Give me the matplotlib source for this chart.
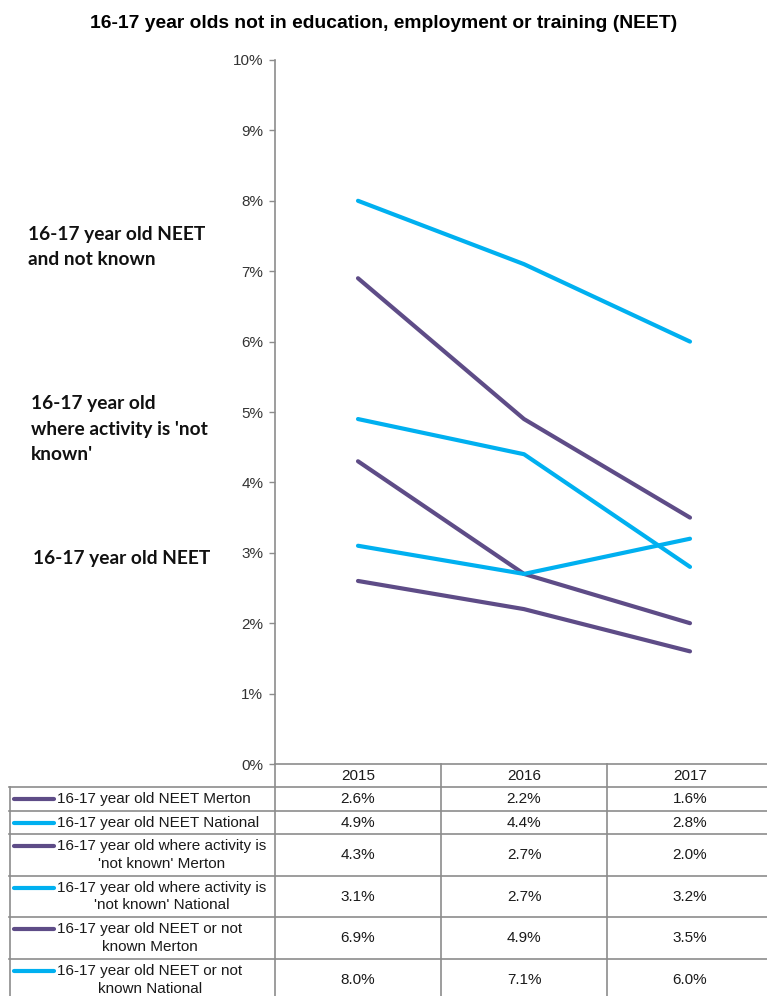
import matplotlib
matplotlib.use("Agg")
import matplotlib.pyplot as plt
import matplotlib.transforms as mtransforms
from matplotlib.ticker import FuncFormatter, MultipleLocator

# data
years = ["2015", "2016", "2017"]
series_names = [
    "16-17 year old NEET Merton",
    "16-17 year old NEET National",
    "16-17 year old where activity is\n'not known' Merton",
    "16-17 year old where activity is\n'not known' National",
    "16-17 year old NEET or not\nknown Merton",
    "16-17 year old NEET or not\nknown National",
]
neet_merton = [2.6, 2.2, 1.6]
neet_national = [4.9, 4.4, 2.8]
notknown_merton = [4.3, 2.7, 2.0]
notknown_national = [3.1, 2.7, 3.2]
either_merton = [6.9, 4.9, 3.5]
either_national = [8.0, 7.1, 6.0]
series_values = [neet_merton, neet_national, notknown_merton,
                 notknown_national, either_merton, either_national]

side_labels = ["16-17 year old NEET\nand not known",
               "16-17 year old\nwhere activity is 'not\nknown'",
               "16-17 year old NEET"]

PURPLE = "#5E4C87"
CYAN = "#00B0F0"
GRID = "#8C8C8C"
TXT = "#1a1a1a"
colors = [PURPLE, CYAN, PURPLE, CYAN, PURPLE, CYAN]

W, H = 767, 996
fig = plt.figure(figsize=(W / 100, H / 100), dpi=100, facecolor="white")

# axes placed in pixel terms
ax_left, ax_right, ax_top, ax_bottom = 275, 773, 60, 764
ax = fig.add_axes([ax_left / W, 1 - ax_bottom / H, (ax_right - ax_left) / W, (ax_bottom - ax_top) / H])

x = range(len(years))
for vals, c in zip(series_values, colors):
    ax.plot(x, vals, color=c, lw=3.0, solid_capstyle="round", solid_joinstyle="round")

ax.set_xlim(-0.5, 2.5)
ax.set_ylim(0, 10)
ax.yaxis.set_major_locator(MultipleLocator(1))
ax.yaxis.set_major_formatter(FuncFormatter(lambda v, p: f"{v:.0f}%"))
ax.tick_params(axis="y", direction="out", length=4, width=1, color=GRID,
               labelsize=11, labelcolor="#333333", pad=4.5)
ax.tick_params(axis="x", bottom=False, labelbottom=False)
for s in ["top", "right"]:
    ax.spines[s].set_visible(False)
for s in ["left", "bottom"]:
    ax.spines[s].set_color(GRID)
    ax.spines[s].set_linewidth(1.2)
for lab in ax.get_yticklabels():
    lab.set_fontfamily("Liberation Sans")

fig.text(0.5, 1 - 24 / H, "16-17 year olds not in education, employment or training (NEET)",
         ha="center", va="center", fontsize=13.9, fontweight="bold", family="Liberation Sans")

# data table below the axis: x in data units, y in pixels from top
tr = mtransforms.blended_transform_factory(ax.transData, fig.transFigure)
ftr = fig.transFigure


def fy(py):
    return 1 - py / H


row_edges = [787, 811, 834, 876, 917, 959, 1001]
col_edges = [-0.5, 0.5, 1.5, 2.5]

# header row (years)
for i, yr in enumerate(years):
    ax.text(i, fy(775.5), yr, transform=tr, ha="center", va="center",
            fontsize=11, family="Liberation Sans", color=TXT, clip_on=False)

# vertical lines
for ce in col_edges[:3]:
    ax.plot([ce, ce], [fy(764), fy(1001)], transform=tr, color=GRID, lw=1.2, clip_on=False)
fig.add_artist(plt.Line2D([9.5 / W, 9.5 / W], [fy(787), fy(1001)], transform=ftr, color=GRID, lw=1.2))

# horizontal lines
for re in row_edges[:-1]:
    fig.add_artist(plt.Line2D([9 / W, 1.0], [fy(re), fy(re)], transform=ftr, color=GRID, lw=1.2))

# rows
for r, (name, vals, c) in enumerate(zip(series_names, series_values, colors)):
    top, bot = row_edges[r], row_edges[r + 1]
    mid = (top + bot) / 2
    two = "\n" in name
    key_y = mid - 9 if two else mid
    fig.add_artist(plt.Line2D([14 / W, 54 / W], [fy(key_y), fy(key_y)], transform=ftr,
                              color=c, lw=3.0, solid_capstyle="round"))
    fig.text(57 / W, fy(mid), name, ha="left", va="center", multialignment="center",
             fontsize=11, family="Liberation Sans", color=TXT, linespacing=1.3)
    for i, v in enumerate(vals):
        ax.text(i, fy(mid), f"{v:.1f}%", transform=tr, ha="center", va="center",
                fontsize=11, family="Liberation Sans", color=TXT, clip_on=False)

# side annotations (baseline of last line)
side_pos = [(28, 265), (31, 460), (33, 564)]
for (px, py), txt in zip(side_pos, side_labels):
    fig.text(px / W, fy(py), txt, ha="left", va="baseline", fontsize=13.8, fontweight="bold",
             family="Lato", color="#111111", linespacing=1.6)

fig.savefig("out.png", dpi=100, facecolor="white")
